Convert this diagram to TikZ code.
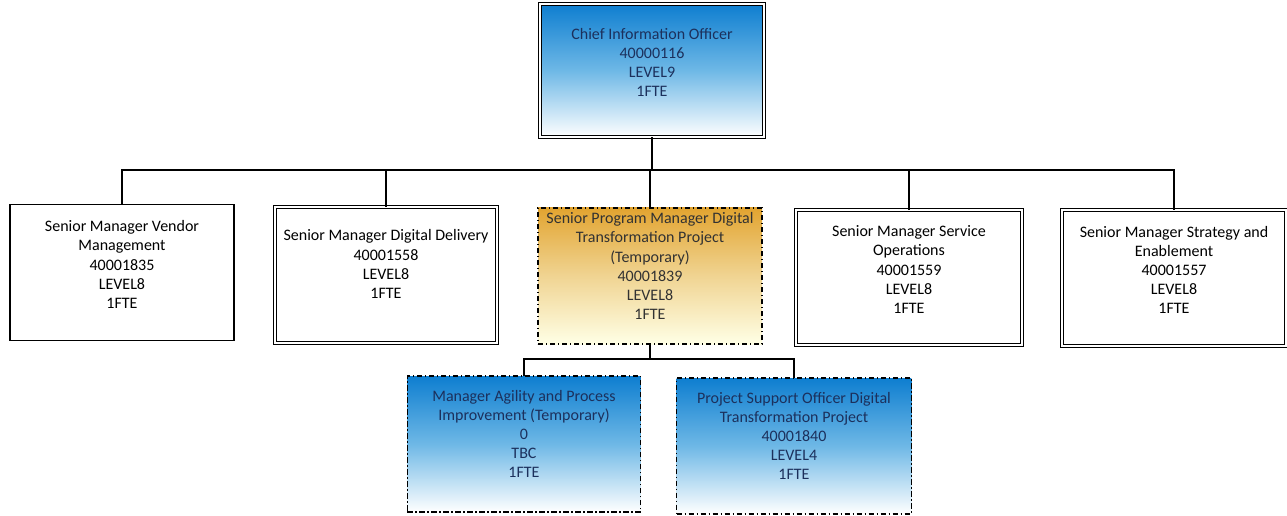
\documentclass[tikz,border=0pt]{standalone}
\usepackage{fontspec}
\setmainfont{Carlito}
\usepackage{tikz}
\usetikzlibrary{calc}
\definecolor{topblue}{RGB}{14, 126, 208}
\definecolor{midblue}{RGB}{110, 184, 230}
\definecolor{toporange}{RGB}{226, 164, 48}
\definecolor{midorange}{RGB}{240, 212, 146}
\definecolor{navytext}{RGB}{28, 48, 92}
\definecolor{greytext}{RGB}{50, 50, 50}

\tikzset{
  posbox/.style={inner sep=0pt, outer sep=0pt, minimum width=168pt, minimum height=102pt},
  plainbox/.style={posbox, draw, line width=0.9pt},
  dblbox/.style={posbox, draw, double, double distance=1.6pt, line width=0.7pt},
  tempbox/.style={posbox, draw, line width=0.9pt, dash pattern=on 4pt off 2pt on 1pt off 2pt},
  blueshade/.style={top color=topblue, bottom color=white, middle color=midblue},
  orangeshade/.style={top color=toporange, bottom color=white!90!yellow, middle color=midorange},
  postext/.style={align=center, inner sep=0pt, font=\fontsize{12}{14.3}\selectfont},
  link/.style={line width=1pt}
}

\begin{document}
\begin{tikzpicture}[x=0.75pt,y=0.75pt,yscale=-1,xscale=1]
\useasboundingbox (0,0) rectangle (1287,516);

% Boxes
\node [dblbox, blueshade, minimum width=168pt, minimum height=100pt] (cio) at (652,70.5) {};
\node [plainbox] (vendor) at (122,272.5) {};
\node [dblbox, minimum width=167pt] (delivery) at (386,275) {};
\node [tempbox, orangeshade] (program) at (650,276) {};
\node [dblbox, minimum width=170pt, minimum height=101pt] (service) at (909,277.5) {};
\node [dblbox] (strategy) at (1174,278) {};
\node [tempbox, blueshade, minimum width=175pt] (agility) at (524,444) {};
\node [tempbox, blueshade, minimum width=176pt] (support) at (794,446) {};

% Texts
\node [postext, text=navytext] (ciotext) at ($(cio.center)+(0,-8)$) {Chief Information Officer\\40000116\\LEVEL9\\1FTE};
\node [postext] (vendortext) at ($(vendor.center)+(0,-8)$) {Senior Manager Vendor\\Management\\40001835\\LEVEL8\\1FTE};
\node [postext] (deliverytext) at ($(delivery.center)+(0,-11)$) {Senior Manager Digital Delivery\\40001558\\LEVEL8\\1FTE};
\node [postext, text=greytext] (programtext) at ($(program.center)+(0,-10)$) {Senior Program Manager Digital\\Transformation Project\\(Temporary)\\40001839\\LEVEL8\\1FTE};
\node [postext] (servicetext) at ($(service.center)+(0,-8)$) {Senior Manager Service\\Operations\\40001559\\LEVEL8\\1FTE};
\node [postext] (strategytext) at ($(strategy.center)+(0,-8)$) {Senior Manager Strategy and\\Enablement\\40001557\\LEVEL8\\1FTE};
\node [postext, text=navytext] (agilitytext) at ($(agility.center)+(0,-10)$) {Manager Agility and Process\\Improvement (Temporary)\\0\\TBC\\1FTE};
\node [postext, text=navytext] (supporttext) at ($(support.center)+(0,-10)$) {Project Support Officer Digital\\Transformation Project\\40001840\\LEVEL4\\1FTE};

% Connectors
\coordinate (topbus) at (652,170);
\coordinate (lowbus) at (652,359);
\draw [link] (cio.south) -- (topbus);
\draw [link] (vendor.north) |- (topbus) -| (strategy.north);
\draw [link] (delivery.north) -- (delivery.north |- topbus);
\draw [link] (program.north) -- (program.north |- topbus);
\draw [link] (service.north) -- (service.north |- topbus);
\draw [link] (program.south) -- (program.south |- lowbus);
\draw [link] (agility.north) |- (lowbus) -| (support.north);

\end{tikzpicture}
\end{document}
